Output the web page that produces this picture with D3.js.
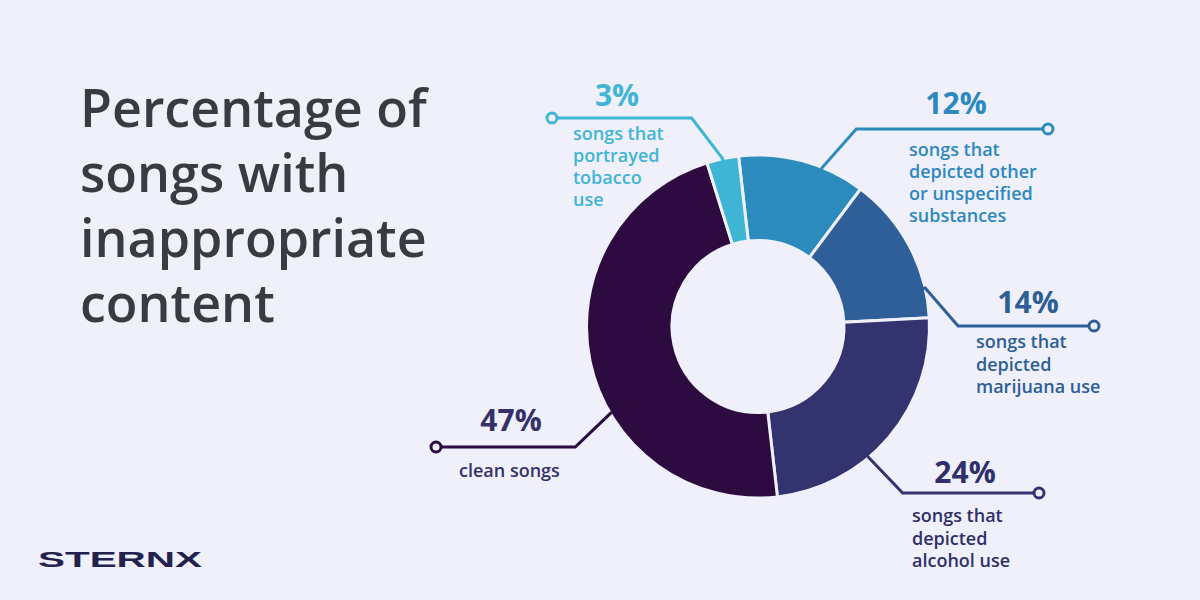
<!DOCTYPE html>
<html><head><meta charset="utf-8">
<script src="https://cdn.jsdelivr.net/npm/d3@7"></script>
<style>html,body{margin:0;padding:0;background:#eff0fa;}svg{display:block;}</style>
</head><body>
<svg id="c" width="1200" height="600"></svg>
<script>
// ---- data ----
const categories = ["other", "marijuana", "alcohol", "clean", "tobacco"];
const values = [12, 14, 24, 47, 3];
const percentLabels = ["12%", "14%", "24%", "47%", "3%"];
const descriptions = [
  ["songs that", "depicted other", "or unspecified", "substances"],
  ["songs that", "depicted", "marijuana use"],
  ["songs that", "depicted", "alcohol use"],
  ["clean songs"],
  ["songs that", "portrayed", "tobacco", "use"]
];
const titleLines = ["Percentage of", "songs with", "inappropriate", "content"];

// ---- style / layout ----
const sliceColors = ["#2b8bbd", "#2e5f98", "#33336f", "#2d0a3f", "#3fb5d6"];
const textColors  = ["#2d88bf", "#2d5e96", "#2f2f6a", "#35306a", "#41b5d6"];
const lineColors  = ["#2b8bbd", "#2e5f98", "#33336f", "#2d0a3f", "#3fb5d6"];
// anchor fraction along the slice, diagonal offset, dot x, text positions
const labelLayout = [
  {f:0.66, dx:34,  dy:-39, dotX:1048, pctX:956,  pctDy:-15, txtX:909, txtDy:27, lh:22},
  {f:0.80, dx:33,  dy:38,  dotX:1094, pctX:1028, pctDy:-13, txtX:976, txtDy:22, lh:22.5},
  {f:0.61, dx:34,  dy:36,  dotX:1039, pctX:965,  pctDy:-10, txtX:912, txtDy:29, lh:22.5},
  {f:0.39, dx:-35, dy:33,  dotX:436,  pctX:511,  pctDy:-16, txtX:459, txtDy:30, lh:22},
  {f:0.50, dx:-31, dy:-41, dotX:552,  pctX:617,  pctDy:-12, txtX:573, txtDy:22, lh:22}
];

const svg = d3.select("#c");
svg.append("rect").attr("width",1200).attr("height",600).attr("fill","#eff0fa");

const cx = 758, cy = 326.5, R = 171.5, r = 86;
const startAngle = -6.5 * Math.PI / 180;

const pie = d3.pie().sort(null).value(d => d)
  .startAngle(startAngle).endAngle(startAngle + 2*Math.PI);
const arcs = pie(values);
const arc = d3.arc().innerRadius(r).outerRadius(R);

const g = svg.append("g").attr("transform", `translate(${cx},${cy})`);

// leader lines (under pie)
const lab = svg.append("g");
arcs.forEach((a, i) => {
  const L = labelLayout[i];
  const ang = a.startAngle + (a.endAngle - a.startAngle) * L.f;
  const px = cx + R * Math.sin(ang), py = cy - R * Math.cos(ang);
  const ex = px + L.dx;
  const ey = Math.round(py + L.dy);
  const p0x = cx + (R - 20) * Math.sin(ang), p0y = cy - (R - 20) * Math.cos(ang);
  lab.append("path")
    .attr("d", `M${p0x},${p0y} L${px},${py} L${ex},${ey} L${L.dotX},${ey}`)
    .attr("fill","none").attr("stroke", lineColors[i]).attr("stroke-width",3)
    .attr("stroke-linejoin","miter");
  lab.append("circle").attr("cx", L.dotX).attr("cy", ey).attr("r", 5)
    .attr("fill","#eff0fa").attr("stroke", lineColors[i]).attr("stroke-width",3);
  lab.append("text").attr("x", L.pctX).attr("y", ey + L.pctDy)
    .attr("text-anchor","middle").attr("font-family","'Open Sans', sans-serif")
    .attr("font-weight",700).attr("font-size",30).attr("fill", textColors[i])
    .text(percentLabels[i]);
  descriptions[i].forEach((t, j) => {
    lab.append("text").attr("x", L.txtX).attr("y", ey + L.txtDy + j * L.lh)
      .attr("font-family","'Open Sans', sans-serif").attr("font-weight",600)
      .attr("font-size",18).attr("fill", textColors[i]).text(t);
  });
});

g.selectAll("path.slice").data(arcs).join("path")
  .attr("class","slice")
  .attr("d", arc)
  .attr("fill", (d,i) => sliceColors[i])
  .attr("stroke", "#eff0fa").attr("stroke-width", 3);

// title
const title = svg.append("g");
titleLines.forEach((t, i) => {
  title.append("text").attr("x", 80).attr("y", 127 + i * 65)
    .attr("font-family","'Open Sans', sans-serif").attr("font-weight",600)
    .attr("font-size",52).attr("fill","#3a3b41").text(t);
});

// logo
svg.append("text").attr("x", 38).attr("y", 567)
  .attr("font-family","'Liberation Sans', Arial, sans-serif").attr("font-weight",700)
  .attr("font-size",22).attr("fill","#23224f")
  .attr("textLength",164).attr("lengthAdjust","spacingAndGlyphs")
  .text("STERNX");
</script>
</body></html>
